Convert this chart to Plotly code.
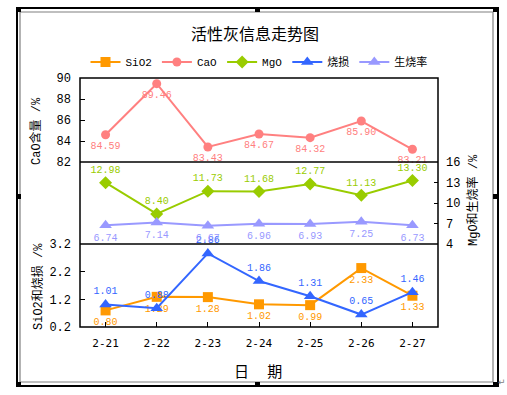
import plotly.graph_objects as go

categories = ["2-21", "2-22", "2-23", "2-24", "2-25", "2-26", "2-27"]
sio2 = [0.80, 1.29, 1.28, 1.02, 0.99, 2.33, 1.33]
cao = [84.59, 89.46, 83.43, 84.67, 84.32, 85.90, 83.21]
mgo = [12.98, 8.40, 11.73, 11.68, 12.77, 11.13, 13.30]
shaosun = [1.01, 0.88, 2.86, 1.86, 1.31, 0.65, 1.46]
shengshao = [6.74, 7.14, 6.67, 6.96, 6.93, 7.25, 6.73]

W, H = 507, 395
L, R, T, B = 80, 438, 78, 327


def xp(px):
    return (px - L) / (R - L)


def yp(py):
    return (B - py) / (B - T)


d1 = yp(244)
d2 = yp(162)

LBL = dict(family="Liberation Mono, DejaVu Sans Mono, monospace", size=10)


def tr(name, y, yaxis, color, symbol, msize, tpos):
    return go.Scatter(
        x=categories, y=y, name=name, yaxis=yaxis,
        mode="lines+markers+text",
        line=dict(color=color, width=2),
        marker=dict(symbol=symbol, size=msize, color=color),
        text=[f"{v:.2f}" for v in y], textposition=tpos,
        textfont=dict(LBL, color=color),
        cliponaxis=False,
    )


fig = go.Figure()
fig.add_trace(tr("SiO2", sio2, "y", "#FF9900", "square", 10, "bottom center"))
fig.add_trace(tr("CaO", cao, "y3", "#FF8080", "circle", 9, "bottom center"))
fig.add_trace(tr("MgO", mgo, "y2", "#99CC00", "diamond", 10, "top center"))
fig.add_trace(tr("烧损", shaosun, "y", "#3366FF", "triangle-up", 11, "top center"))
fig.add_trace(tr("生烧率", shengshao, "y2", "#9999FF", "triangle-up", 11, "bottom center"))

TICKF = dict(family="Liberation Mono, DejaVu Sans Mono, monospace", size=12, color="black")

fig.update_layout(
    width=W, height=H,
    margin=dict(l=L, r=W - R, t=T, b=H - B, pad=0),
    paper_bgcolor="white", plot_bgcolor="white",
    showlegend=True,
    legend=dict(orientation="h", x=0.5, xanchor="center", y=yp(62), yanchor="middle",
                font=dict(family="Liberation Mono, Noto Sans CJK SC", size=11, color="black"),
                itemwidth=30, tracegroupgap=0, bgcolor="rgba(0,0,0,0)"),
    xaxis=dict(type="category", range=[-0.5, 6.5], anchor="y", showgrid=False, zeroline=False,
               showline=False, ticks="inside", ticklen=5, tickcolor="black",
               ticklabelstandoff=8,
               tickfont=dict(family="DejaVu Sans Mono, monospace", size=11, color="black")),
    yaxis=dict(domain=[0, d1], range=[0.2, 3.2], tickvals=[0.2, 1.2, 2.2, 3.2], tickformat=".1f",
               anchor="x", showgrid=False, zeroline=False, showline=False,
               ticks="inside", ticklen=5, tickcolor="black", tickfont=TICKF,
               ticklabelstandoff=8),
    yaxis2=dict(domain=[d1, d2], range=[4, 16], tickvals=[4, 7, 10, 13, 16], side="right",
                anchor="x", showgrid=False, zeroline=False, showline=False,
                ticks="inside", ticklen=4, tickcolor="black", tickfont=TICKF,
                ticklabelstandoff=7),
    yaxis3=dict(domain=[d2, 1], range=[82, 90], tickvals=[82, 84, 86, 88, 90],
                anchor="x", showgrid=False, zeroline=False, showline=False,
                ticks="inside", ticklen=5, tickcolor="black", tickfont=TICKF,
                ticklabelstandoff=8),
)

shapes = [
    dict(type="rect", xref="paper", yref="paper", x0=0, x1=1, y0=0, y1=1,
         line=dict(color="black", width=1.5)),
    dict(type="line", xref="paper", yref="paper", x0=0, x1=1, y0=d1, y1=d1,
         line=dict(color="black", width=1.5)),
    dict(type="line", xref="paper", yref="paper", x0=0, x1=1, y0=d2, y1=d2,
         line=dict(color="black", width=1.5)),
    dict(type="rect", xref="paper", yref="paper", x0=xp(20), x1=xp(493), y0=yp(382), y1=yp(12),
         line=dict(color="#808080", width=1.2)),
    dict(type="rect", xref="paper", yref="paper", x0=xp(17), x1=xp(498), y0=yp(386), y1=yp(8),
         line=dict(color="black", width=2)),
]
for cx, cy in [(18.5, 9.5), (257.5, 9.5), (495.5, 9.5), (18.5, 196.5), (495.5, 196.5),
               (18.5, 384.5), (257.5, 384.5), (495.5, 384.5)]:
    shapes.append(dict(type="rect", xref="paper", yref="paper",
                       x0=xp(cx - 2.5), x1=xp(cx + 2.5), y0=yp(cy + 2.5), y1=yp(cy - 2.5),
                       fillcolor="black", line=dict(width=0)))
fig.update_layout(shapes=shapes)

CJK = "Liberation Mono, Noto Sans CJK SC"
anns = [
    dict(text="活性灰信息走势图", x=xp(255), y=yp(33),
         font=dict(family="Noto Sans CJK SC", size=16, color="black")),
    dict(text="CaO含量 /%", x=xp(36), y=yp(131), textangle=-90,
         font=dict(family=CJK, size=12, color="black")),
    dict(text="SiO2和烧损 /%", x=xp(38), y=yp(287), textangle=-90,
         font=dict(family=CJK, size=12, color="black")),
    dict(text="MgO和生烧率 /%", x=xp(473), y=yp(200), textangle=-90,
         font=dict(family=CJK, size=12, color="black")),
    dict(text="日　 期", x=xp(258), y=yp(370),
         font=dict(family="Noto Sans CJK SC", size=15, color="black")),
    dict(text="↵", x=xp(502), y=yp(382),
         font=dict(family="DejaVu Sans", size=9, color="#808080")),
]
for a in anns:
    a.update(xref="paper", yref="paper", showarrow=False, xanchor="center", yanchor="middle")
fig.update_layout(annotations=anns)

fig.write_html("out.html", config={"displayModeBar": False},
               post_script="document.body.style.margin='0';document.body.style.overflow='hidden';")
